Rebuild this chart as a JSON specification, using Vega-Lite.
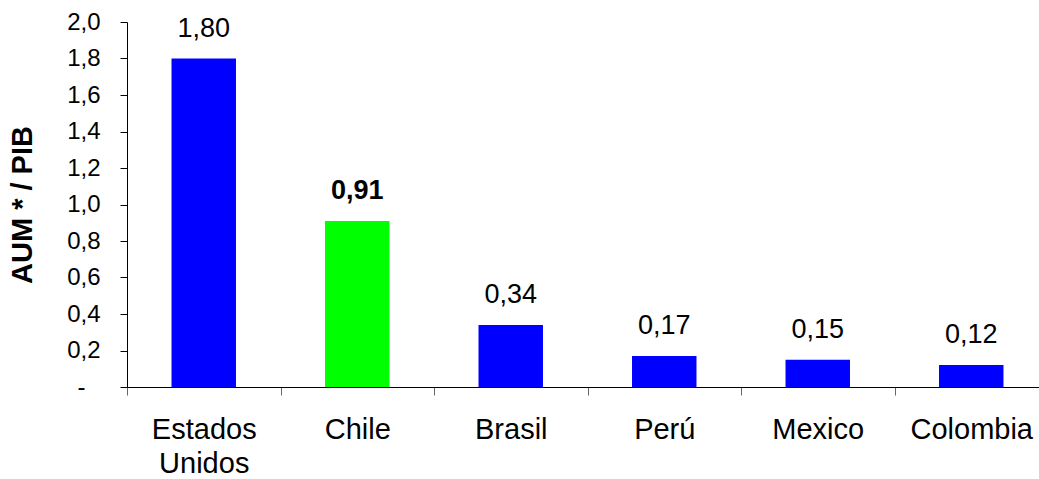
{
  "$schema": "https://vega.github.io/schema/vega-lite/v6.json",
  "width": 912,
  "height": 365,
  "autosize": "none",
  "padding": {"left": 127, "top": 22, "right": 0, "bottom": 92},
  "background": "white",
  "config": {
    "view": {"stroke": null},
    "font": "Liberation Sans",
    "locale": {"number": {"decimal": ",", "thousands": ".", "grouping": [3], "currency": ["", ""]}}
  },
  "data": {
    "values": [
      {"pais": "Estados Unidos", "valor": 1.80},
      {"pais": "Chile", "valor": 0.91},
      {"pais": "Brasil", "valor": 0.34},
      {"pais": "Perú", "valor": 0.17},
      {"pais": "Mexico", "valor": 0.15},
      {"pais": "Colombia", "valor": 0.12}
    ]
  },
  "encoding": {
    "x": {
      "field": "pais",
      "type": "nominal",
      "sort": null,
      "scale": {"paddingInner": 0, "paddingOuter": 0, "range": [0, 921]},
      "axis": {
        "title": null,
        "labelAngle": 0,
        "labelFont": "Liberation Sans",
        "labelFontSize": 29,
        "labelColor": "black",
        "labelPadding": 20,
        "labelLineHeight": 34,
        "labelBaseline": "top",
        "labelExpr": "datum.value == 'Estados Unidos' ? ['Estados', 'Unidos'] : datum.value",
        "tickBand": "extent",
        "tickSize": 8,
        "tickColor": "#666666",
        "domainColor": "black",
        "grid": false
      }
    },
    "y": {
      "field": "valor",
      "type": "quantitative",
      "scale": {"domain": [0, 2], "nice": false},
      "axis": {
        "title": "AUM * / PIB",
        "titleFont": "Liberation Sans",
        "titleFontSize": 29,
        "titleFontWeight": "bold",
        "titleColor": "black",
        "titlePadding": 29,
        "values": [0, 0.2, 0.4, 0.6, 0.8, 1.0, 1.2, 1.4, 1.6, 1.8, 2.0],
        "labelExpr": "datum.value == 0 ? '-' : format(datum.value, '.1f')",
        "labelFont": "Liberation Sans",
        "labelFontSize": 24,
        "labelColor": "black",
        "labelPadding": {"condition": {"test": "datum.value == 0", "value": 35}, "value": 20},
        "tickSize": 7,
        "tickColor": "black",
        "domainColor": "black",
        "grid": false
      }
    }
  },
  "layer": [
    {
      "mark": {"type": "bar", "width": {"band": 0.42}},
      "encoding": {
        "color": {
          "condition": {"test": "datum.pais == 'Chile'", "value": "#00FF00"},
          "value": "#0000FF"
        }
      }
    },
    {
      "transform": [{"filter": "datum.pais != 'Chile'"}],
      "mark": {"type": "text", "fontSize": 27, "font": "Liberation Sans", "baseline": "alphabetic", "dy": -22, "color": "black"},
      "encoding": {"text": {"field": "valor", "type": "quantitative", "format": ".2f"}}
    },
    {
      "transform": [{"filter": "datum.pais == 'Chile'"}],
      "mark": {"type": "text", "fontSize": 27, "font": "Liberation Sans", "fontWeight": "bold", "baseline": "alphabetic", "dy": -22, "color": "black"},
      "encoding": {"text": {"field": "valor", "type": "quantitative", "format": ".2f"}}
    }
  ]
}
